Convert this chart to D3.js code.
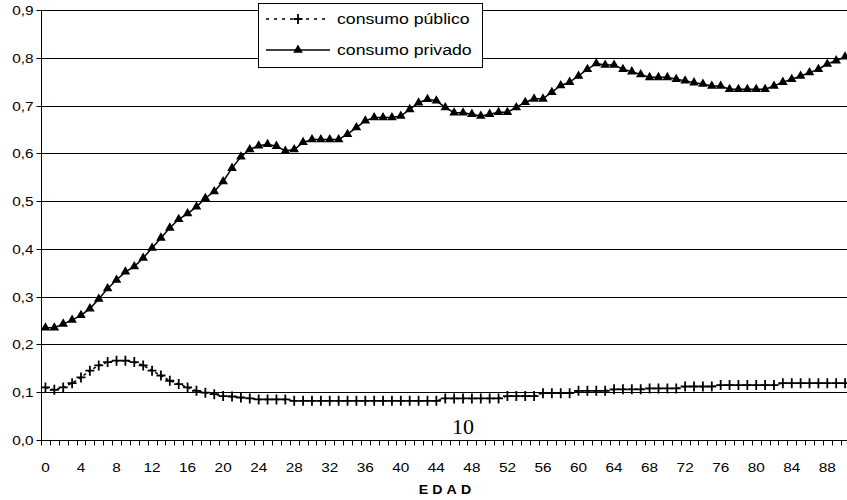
<!DOCTYPE html>
<html>
<head>
<meta charset="utf-8">
<script src="https://cdn.jsdelivr.net/npm/d3@7"></script>
<style>
  html, body { margin: 0; padding: 0; background: #fff; }
  svg { display: block; }
  text { font-family: "Liberation Sans", Arial, sans-serif; fill: #000; }
</style>
</head>
<body>
<svg id="chart" width="847" height="500"></svg>
<script>
// Age (EDAD) categories, 0 to 90
const ages = d3.range(0, 91);

// Tick labels shown on the age axis (every fourth age)
const ageTickLabels = ["0","4","8","12","16","20","24","28","32","36","40","44",
  "48","52","56","60","64","68","72","76","80","84","88"];

// Value-axis tick labels
const valueTicks = [0, 0.1, 0.2, 0.3, 0.4, 0.5, 0.6, 0.7, 0.8, 0.9];

// Private consumption by age
const consumoPrivado = [
  0.235, 0.235, 0.243, 0.251, 0.261, 0.275, 0.295, 0.317, 0.335, 0.352,
  0.363, 0.381, 0.402, 0.423, 0.444, 0.462, 0.474, 0.488, 0.506, 0.520,
  0.541, 0.569, 0.593, 0.608, 0.616, 0.619, 0.615, 0.605, 0.608, 0.623,
  0.629, 0.629, 0.629, 0.629, 0.640, 0.654, 0.668, 0.675, 0.675, 0.675,
  0.678, 0.692, 0.706, 0.713, 0.710, 0.696, 0.685, 0.685, 0.682, 0.678,
  0.682, 0.686, 0.686, 0.696, 0.707, 0.714, 0.714, 0.728, 0.742, 0.749,
  0.762, 0.776, 0.788, 0.785, 0.785, 0.776, 0.771, 0.765, 0.759, 0.759,
  0.759, 0.755, 0.752, 0.748, 0.745, 0.741, 0.741, 0.734, 0.734, 0.734,
  0.734, 0.734, 0.741, 0.749, 0.755, 0.762, 0.769, 0.776, 0.787, 0.794,
  0.802
];

// Public consumption by age
const consumoPublico = [
  0.110, 0.105, 0.110, 0.119, 0.131, 0.145, 0.156, 0.163, 0.166, 0.166,
  0.163, 0.156, 0.145, 0.135, 0.124, 0.117, 0.110, 0.103, 0.099, 0.096,
  0.092, 0.091, 0.089, 0.087, 0.085, 0.085, 0.085, 0.085, 0.082, 0.082,
  0.082, 0.082, 0.082, 0.082, 0.082, 0.082, 0.082, 0.082, 0.082, 0.082,
  0.082, 0.082, 0.082, 0.082, 0.082, 0.087, 0.087, 0.087, 0.087, 0.087,
  0.087, 0.087, 0.092, 0.092, 0.092, 0.092, 0.098, 0.098, 0.098, 0.098,
  0.103, 0.103, 0.103, 0.103, 0.106, 0.106, 0.106, 0.106, 0.108, 0.108,
  0.108, 0.108, 0.112, 0.112, 0.112, 0.112, 0.115, 0.115, 0.115, 0.115,
  0.115, 0.115, 0.115, 0.119, 0.119, 0.119, 0.119, 0.119, 0.119, 0.119,
  0.119
];

const seriesNames = ["consumo público", "consumo privado"];
const axisTitle = "EDAD";
const pageNumber = "10";

// The whole chart is drawn slightly wide, so text is stretched horizontally
const stretch = 1.18;

const svg = d3.select("#chart");

const plot = { left: 41, right: 849.5, top: 10, bottom: 440 };

const x = d3.scaleBand().domain(ages).range([plot.left, plot.right]).padding(0);
const y = d3.scaleLinear().domain([0, 0.9]).range([plot.bottom, plot.top]);
const cx = a => x(a) + x.bandwidth() / 2;

// Horizontal gridlines
svg.append("g")
  .selectAll("line")
  .data(valueTicks.filter(v => v > 0))
  .join("line")
  .attr("x1", plot.left).attr("x2", 847)
  .attr("y1", d => Math.round(y(d)) + 0.5).attr("y2", d => Math.round(y(d)) + 0.5)
  .attr("stroke", "#000").attr("stroke-width", 1);

// Value axis
const yAxis = d3.axisLeft(y)
  .tickValues(valueTicks)
  .tickSize(5)
  .tickPadding(4)
  .tickFormat(d => d3.format(".1f")(d).replace(".", ","));
const gy = svg.append("g")
  .attr("transform", `translate(${plot.left + 0.5},0)`)
  .call(yAxis);
gy.select(".domain").attr("d", `M0,${plot.top}V${plot.bottom}`).attr("stroke", "#000");
gy.selectAll(".tick line").attr("stroke", "#000");
gy.selectAll(".tick").attr("transform", d => `translate(0,${Math.round(y(d)) + 0.5})`);
gy.selectAll("text")
  .attr("font-family", null).attr("font-size", null)
  .style("font-size", "13px")
  .attr("x", -8 / stretch)
  .attr("transform", `scale(${stretch},1)`);

// Age axis: ticks at category boundaries, labels every fourth category
const gx = svg.append("g").attr("transform", `translate(0,${plot.bottom + 0.5})`);
gx.append("line")
  .attr("x1", plot.left).attr("x2", 847)
  .attr("stroke", "#000");
gx.selectAll("line.tk")
  .data(ages)
  .join("line")
  .attr("class", "tk")
  .attr("x1", d => Math.round(x(d)) + 0.5).attr("x2", d => Math.round(x(d)) + 0.5)
  .attr("y1", 0).attr("y2", 5)
  .attr("stroke", "#000");
gx.selectAll("text")
  .data(ageTickLabels)
  .join("text")
  .attr("transform", d => `translate(${cx(+d)},31) scale(${stretch},1)`)
  .attr("text-anchor", "middle")
  .style("font-size", "13px")
  .text(d => d);

// Axis title
svg.append("text")
  .attr("transform", `translate(447,494) scale(${stretch},1)`)
  .attr("text-anchor", "middle")
  .style("font-size", "12px").style("font-weight", "bold")
  .style("letter-spacing", "3.5px")
  .text(axisTitle);

// Page number printed inside the plot
svg.append("text")
  .attr("x", 463).attr("y", 434)
  .attr("text-anchor", "middle")
  .style("font-family", "'Liberation Serif', 'Times New Roman', serif")
  .style("font-size", "22px")
  .text(pageNumber);

// Series lines
const line = d3.line().x((d, i) => cx(ages[i])).y(d => y(d));

svg.append("path")
  .datum(consumoPublico)
  .attr("d", line)
  .attr("fill", "none").attr("stroke", "#000")
  .attr("stroke-width", 1.5).attr("stroke-dasharray", "3,3");

svg.append("path")
  .datum(consumoPrivado)
  .attr("d", line)
  .attr("fill", "none").attr("stroke", "#000")
  .attr("stroke-width", 1.5);

// Markers
const crossPath = "M-4.5,0H4.5M0,-5V5";
const triPath = d3.symbol().type(d3.symbolTriangle).size(40)();

svg.append("g")
  .selectAll("path")
  .data(consumoPublico)
  .join("path")
  .attr("transform", (d, i) => `translate(${cx(ages[i])},${y(d)})`)
  .attr("d", crossPath)
  .attr("stroke", "#000").attr("stroke-width", 1.8).attr("fill", "none");

svg.append("g")
  .selectAll("path")
  .data(consumoPrivado)
  .join("path")
  .attr("transform", (d, i) => `translate(${cx(ages[i])},${y(d)})`)
  .attr("d", triPath)
  .attr("fill", "#000");

// Legend
const lg = svg.append("g");
lg.append("rect")
  .attr("x", 258.5).attr("y", 3.5).attr("width", 224).attr("height", 64)
  .attr("fill", "#fff").attr("stroke", "#000");
const rows = [
  { name: seriesNames[0], y: 19, dash: "3,5", marker: crossPath, stroke: true },
  { name: seriesNames[1], y: 50, dash: null, marker: triPath, stroke: false }
];
rows.forEach(r => {
  lg.append("line")
    .attr("x1", 266).attr("x2", 330).attr("y1", r.y).attr("y2", r.y)
    .attr("stroke", "#000").attr("stroke-width", 1.3)
    .attr("stroke-dasharray", r.dash);
  const m = lg.append("path")
    .attr("transform", `translate(298,${r.y})`)
    .attr("d", r.marker);
  if (r.stroke) m.attr("stroke", "#000").attr("stroke-width", 1.8).attr("fill", "none");
  else m.attr("fill", "#000");
  lg.append("text")
    .attr("transform", `translate(337,${r.y + 5}) scale(${stretch},1)`)
    .style("font-size", "15px")
    .text(r.name);
});
</script>
</body>
</html>
